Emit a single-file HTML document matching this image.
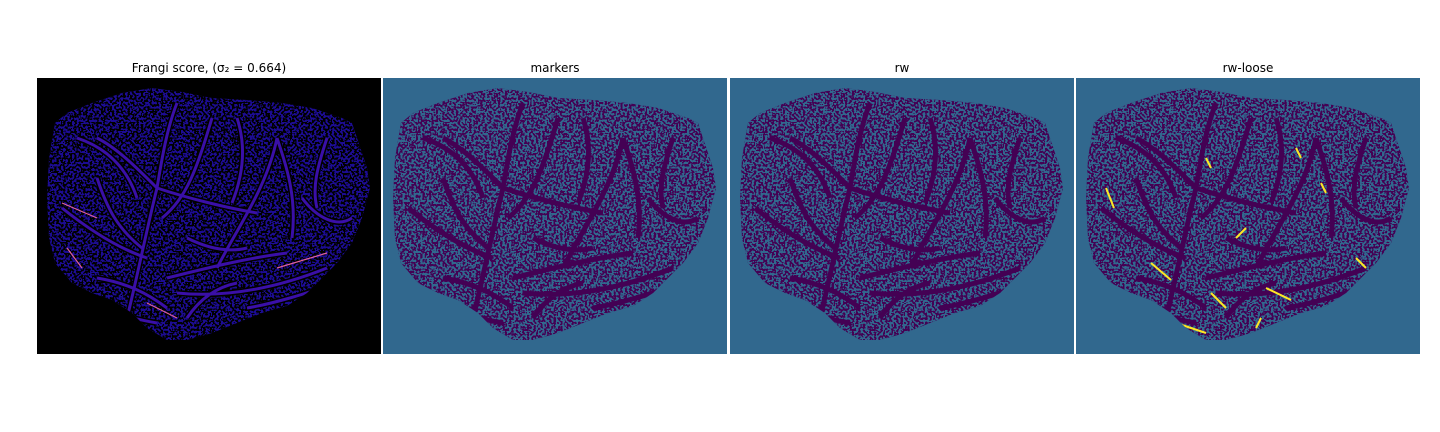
<!DOCTYPE html>
<html><head><meta charset="utf-8"><style>
body{margin:0;background:#fff;width:1440px;height:432px;overflow:hidden}
svg{display:block}
text{font-family:"DejaVu Sans","Liberation Sans",sans-serif;font-size:12px;fill:#000}
</style></head><body>
<svg width="1440" height="432" viewBox="0 0 1440 432">
<defs>
<clipPath id="blob" clipPathUnits="userSpaceOnUse">
<path d="M18,45 L30,35 L55,25 L85,15 L115,10 L145,14 L175,20 L210,22 L245,25 L275,30 L305,40 L315,45 L320,60 L330,90 L333,110 L325,140 L315,165 L300,185 L285,200 L270,215 L250,228 L225,235 L200,245 L175,255 L150,262 L130,262 L110,250 L95,235 L75,222 L55,215 L35,205 L18,185 L12,160 L10,120 L12,80 Z"/>
</clipPath>
<filter id="noiseTeal" x="0" y="0" width="1" height="1" color-interpolation-filters="sRGB">
<feTurbulence type="fractalNoise" baseFrequency="0.45" numOctaves="1" seed="3" result="t"/>
<feColorMatrix in="t" type="matrix" values="0 0 0 0 0.192  0 0 0 0 0.408  0 0 0 0 0.557  1 0 0 0 0" result="c"/>
<feComponentTransfer in="c"><feFuncA type="discrete" tableValues="0 0 1 1"/></feComponentTransfer>
</filter>
<filter id="noiseBlack" x="0" y="0" width="1" height="1" color-interpolation-filters="sRGB">
<feTurbulence type="fractalNoise" baseFrequency="0.45" numOctaves="1" seed="7" result="t"/>
<feColorMatrix in="t" type="matrix" values="0 0 0 0 0  0 0 0 0 0  0 0 0 0 0  1 0 0 0 0" result="c"/>
<feComponentTransfer in="c"><feFuncA type="discrete" tableValues="0 0 1 1"/></feComponentTransfer>
</filter>
<g id="veins">
<path d="M90,240 C100,200 110,150 120,110 C125,80 130,50 140,25 M120,110 C100,90 80,70 60,60 M125,140 C150,120 160,90 175,40 M110,180 C80,170 50,150 25,130 M130,200 C170,190 210,180 250,175 M140,215 C190,220 240,210 290,190 M180,190 C200,150 230,110 240,60 M240,60 C250,90 260,120 255,160 M60,200 C90,205 110,215 130,230 M120,110 C150,120 190,130 220,135 M60,100 C70,130 80,150 105,170 M265,120 C280,140 300,150 315,140 M150,240 C160,225 175,210 200,205 M40,60 C70,70 90,90 100,120 M200,40 C210,70 205,100 195,125 M290,60 C280,90 275,110 280,130 M30,220 C60,230 90,240 120,245 M210,230 C240,225 270,215 300,205 M150,160 C170,170 190,175 210,170"/>
</g>
</defs>

<text x="209" y="72" text-anchor="middle">Frangi score, (σ₂ = 0.664)</text>
<text x="555" y="72" text-anchor="middle">markers</text>
<text x="902" y="72" text-anchor="middle">rw</text>
<text x="1248" y="72" text-anchor="middle">rw-loose</text>

<g transform="translate(37,78)">
<rect width="344" height="276" fill="#000"/>
<g clip-path="url(#blob)">
<rect width="344" height="276" fill="#1c0c93"/>
<rect width="344" height="276" filter="url(#noiseBlack)"/>
<use href="#veins" fill="none" stroke="#000" stroke-width="6"/>
<use href="#veins" fill="none" stroke="#3a0fa8" stroke-width="3"/>
<path d="M25,125 L60,140 M240,190 L290,175 M110,225 L140,240 M30,170 L45,190" stroke="#e0609a" stroke-width="1.2" fill="none"/>
</g>
</g>

<g transform="translate(383,78)">
<rect width="344" height="276" fill="#31688e"/>
<g clip-path="url(#blob)">
<rect width="344" height="276" fill="#440154"/>
<rect width="344" height="276" filter="url(#noiseTeal)"/>
<use href="#veins" fill="none" stroke="#440154" stroke-width="5"/>
</g>
</g>

<g transform="translate(730,78)">
<rect width="344" height="276" fill="#31688e"/>
<g clip-path="url(#blob)">
<rect width="344" height="276" fill="#440154"/>
<rect width="344" height="276" filter="url(#noiseTeal)"/>
<use href="#veins" fill="none" stroke="#440154" stroke-width="5"/>
</g>
</g>

<g transform="translate(1076,78)">
<rect width="344" height="276" fill="#31688e"/>
<g clip-path="url(#blob)">
<rect width="344" height="276" fill="#440154"/>
<rect width="344" height="276" filter="url(#noiseTeal)"/>
<use href="#veins" fill="none" stroke="#440154" stroke-width="5"/>
<path d="M75,185 L95,202 M100,245 L130,255 M135,215 L150,230 M190,210 L215,222 M30,110 L38,130 M160,160 L170,150 M130,80 L135,90 M220,70 L225,80 M280,180 L290,190 M245,105 L250,115 M180,250 L185,240" stroke="#fde725" stroke-width="2" fill="none"/>
</g>
</g>
</svg>
</body></html>
